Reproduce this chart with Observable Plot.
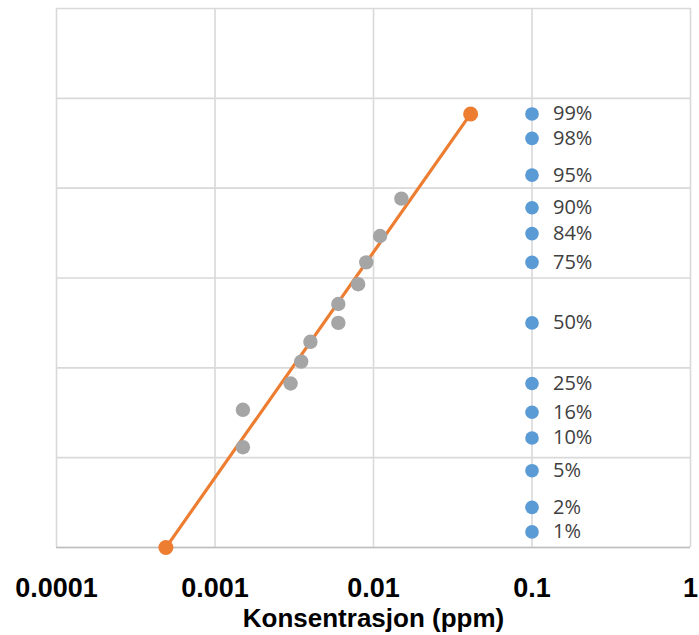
<!DOCTYPE html>
<html><head><meta charset="utf-8">
<script src="https://cdn.jsdelivr.net/npm/d3@7"></script>
<script src="https://cdn.jsdelivr.net/npm/@observablehq/plot@0.6"></script>
<style>body{margin:0;background:#fff}</style>
</head><body><div id="chart"></div>
<script>
// ---- data ----
const xTicks = [0.0001, 0.001, 0.01, 0.1, 1];
const xTickLabels = ["0.0001", "0.001", "0.01", "0.1", "1"];
const xTitle = "Konsentrasjon (ppm)";
const yGridProbit = [-2.5, -1.5, -0.5, 0.5, 1.5, 2.5, 3.5];
const refConc = 0.1;
const refPercents = [99, 98, 95, 90, 84, 75, 50, 25, 16, 10, 5, 2, 1];
const sampleConc = [0.0015, 0.0015, 0.003, 0.0035, 0.004, 0.006, 0.006, 0.008, 0.009, 0.011, 0.015];
const samplePercents = [8.33, 16.67, 25, 33.33, 41.67, 50, 58.33, 66.67, 75, 83.33, 91.67];
const fitConc = [0.00049, 0.041];
const fitPercents = [0.62, 99];

// inverse standard normal (probability scale transform)
function probit(p) {
  const a = [-3.969683028665376e+01, 2.209460984245205e+02, -2.759285104469687e+02, 1.383577518672690e+02, -3.066479806614716e+01, 2.506628277459239e+00];
  const b = [-5.447609879822406e+01, 1.615858368580409e+02, -1.556989798598866e+02, 6.680131188771972e+01, -1.328068155288572e+01];
  const c = [-7.784894002430293e-03, -3.223964580411365e-01, -2.400758277161838e+00, -2.549732989456878e+00, 4.374664141464968e+00, 2.938163982698783e+00];
  const d = [7.784695709041462e-03, 3.224671290700398e-01, 2.445134137142996e+00, 3.754408661907416e+00];
  const plow = 0.02425, phigh = 1 - plow;
  let q, r;
  if (p < plow) {
    q = Math.sqrt(-2 * Math.log(p));
    return (((((c[0]*q+c[1])*q+c[2])*q+c[3])*q+c[4])*q+c[5]) / ((((d[0]*q+d[1])*q+d[2])*q+d[3])*q+1);
  } else if (p <= phigh) {
    q = p - 0.5; r = q * q;
    return (((((a[0]*r+a[1])*r+a[2])*r+a[3])*r+a[4])*r+a[5])*q / (((((b[0]*r+b[1])*r+b[2])*r+b[3])*r+b[4])*r+1);
  } else {
    q = Math.sqrt(-2 * Math.log(1 - p));
    return -(((((c[0]*q+c[1])*q+c[2])*q+c[3])*q+c[4])*q+c[5]) / ((((d[0]*q+d[1])*q+d[2])*q+d[3])*q+1);
  }
}

const refs = refPercents.map(p => ({conc: refConc, pct: p}));
const samples = sampleConc.map((c, i) => ({conc: c, pct: samplePercents[i]}));
const fit = fitConc.map((c, i) => ({conc: c, pct: fitPercents[i]}));
const Y = d => probit(d.pct / 100);
const axisFont = "'Liberation Sans', Arial, sans-serif";

const chart = Plot.plot({
  width: 699,
  height: 635,
  marginLeft: 56,
  marginRight: 9,
  marginTop: 8,
  marginBottom: 88,
  style: {fontFamily: "'Open Sans', sans-serif", background: "#fff", overflow: "visible"},
  x: {type: "log", domain: [0.0001, 1], axis: null},
  y: {domain: [-2.5, 3.5], axis: null},
  marks: [
    Plot.ruleX(xTicks, {stroke: "#d9d9d9", strokeWidth: 1.6}),
    Plot.ruleY(yGridProbit, {stroke: "#d9d9d9", strokeWidth: 1.6}),
    Plot.ruleY([-2.5], {stroke: "#bfbfbf", strokeWidth: 1.6}),
    Plot.line(fit, {x: "conc", y: Y, stroke: "#ED7D31", strokeWidth: 3.2}),
    Plot.dot(fit, {x: "conc", y: Y, r: 7.5, fill: "#ED7D31"}),
    Plot.dot(samples, {x: "conc", y: Y, r: 7.2, fill: "#A5A5A5"}),
    Plot.dot(refs, {x: "conc", y: Y, r: 6.8, fill: "#5B9BD5"}),
    Plot.text(refs, {x: "conc", y: Y, text: d => d.pct + "%", dx: 21, textAnchor: "start", fill: "#404040", fontSize: 20}),
    Plot.text(xTicks, {x: d => d, text: (d, i) => xTickLabels[i], frameAnchor: "bottom", lineAnchor: "bottom", dy: 49, fontSize: 27, fontWeight: "bold", fill: "#000", fontFamily: axisFont}),
    Plot.text([xTitle], {text: d => d, frameAnchor: "bottom", lineAnchor: "bottom", dy: 79, fontSize: 26, fontWeight: "bold", fill: "#000", fontFamily: axisFont})
  ]
});
document.getElementById("chart").appendChild(chart);
</script>
</body></html>
